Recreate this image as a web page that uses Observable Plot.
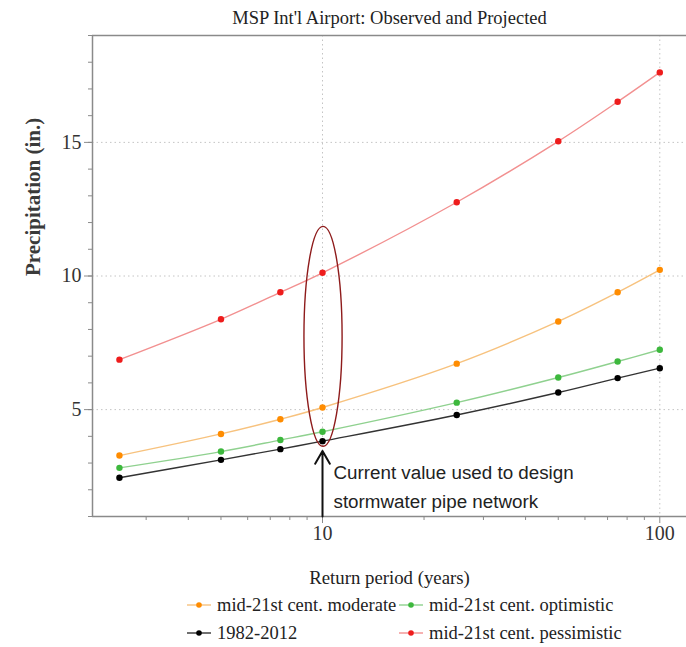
<!DOCTYPE html>
<html>
<head>
<meta charset="utf-8">
<script src="https://cdn.jsdelivr.net/npm/d3@7"></script>
<script src="https://cdn.jsdelivr.net/npm/@observablehq/plot@0.6"></script>
<style>
  html, body { margin: 0; padding: 0; background: #fff; }
  #wrap { position: relative; width: 686px; height: 647px; overflow: hidden; }
  #legend { position: absolute; left: 0; top: 590px; width: 686px; height: 57px;
            font-family: "Liberation Serif", "Times New Roman", serif; font-size: 18.5px; color: #222; }
  .item { position: absolute; display: flex; align-items: center; height: 24px; white-space: nowrap; }
  .item svg { margin-right: 6px; }
</style>
</head>
<body>
<div id="wrap"><div id="chart"></div><div id="legend"></div></div>
<script>
// ---- data ----
const periods     = [2.5, 5, 7.5, 10, 25, 50, 75, 100];           // return period (years)
const observed    = [2.45, 3.12, 3.52, 3.82, 4.80, 5.64, 6.18, 6.55];   // 1982-2012
const optimistic  = [2.82, 3.43, 3.86, 4.17, 5.26, 6.20, 6.80, 7.24];   // mid-21st cent. optimistic
const moderate    = [3.28, 4.09, 4.64, 5.08, 6.72, 8.30, 9.39, 10.23];  // mid-21st cent. moderate
const pessimistic = [6.87, 8.38, 9.39, 10.12, 12.76, 15.04, 16.52, 17.62]; // mid-21st cent. pessimistic

const seriesNames = ["1982-2012", "mid-21st cent. optimistic", "mid-21st cent. moderate", "mid-21st cent. pessimistic"];
const seriesValues = [observed, optimistic, moderate, pessimistic];
const lineColors = ["#333333", "#8fd18f", "#f7c27e", "#f29090"];
const dotColors  = ["#000000", "#3db83d", "#ff8c00", "#ee1c1c"];

const yMajorTicks = [5, 10, 15];
const yMinorTicks = d3.range(1, 20);
const xMajorTicks = [10, 100];
const xMinorTicks = [3, 4, 5, 6, 7, 8, 9, 20, 30, 40, 50, 60, 70, 80, 90];

const xDomain = [2.08, 120];
const yDomain = [1, 19];

// annotation: ellipse around the 10-year values, arrow to the observed value
const ellipseX = [8.84, 11.47];
const ellipseY = [3.61, 11.84];
const arrowFrom = 1;
const arrowTo = 3.45;
const noteText = "Current value used to design\nstormwater pipe network";
const noteY = 2.22;

const titleText = "MSP Int'l Airport: Observed and Projected";
const xLabel = "Return period (years)";
const yLabel = "Precipitation (in.)";

// ---- table ----
const rows = seriesNames.flatMap((name, i) =>
  periods.map((p, j) => ({series: name, period: p, value: seriesValues[i][j]})));

const serif = "Liberation Serif, Times New Roman, serif";
const sans = "Liberation Sans, Arial, Helvetica, sans-serif";
const axisGray = "#8a8a8a";

function ellipseMark(index, scales, values, dimensions) {
  const sx = typeof scales.x === "function" ? scales.x : scales.x.apply;
  const sy = typeof scales.y === "function" ? scales.y : scales.y.apply;
  const x0 = sx(ellipseX[0]), x1 = sx(ellipseX[1]);
  const y0 = sy(ellipseY[0]), y1 = sy(ellipseY[1]);
  const e = document.createElementNS("http://www.w3.org/2000/svg", "ellipse");
  e.setAttribute("cx", (x0 + x1) / 2);
  e.setAttribute("cy", (y0 + y1) / 2);
  e.setAttribute("rx", Math.abs(x1 - x0) / 2);
  e.setAttribute("ry", Math.abs(y1 - y0) / 2);
  e.setAttribute("fill", "none");
  e.setAttribute("stroke", "#8e1b1b");
  e.setAttribute("stroke-width", 1.4);
  const g = document.createElementNS("http://www.w3.org/2000/svg", "g");
  g.appendChild(e);
  return g;
}

const marks = [
  // grid
  Plot.gridX(xMajorTicks, {stroke: "#c4c4c4", strokeOpacity: 1, strokeDasharray: "1.5,3"}),
  Plot.gridY(yMajorTicks, {stroke: "#c4c4c4", strokeOpacity: 1, strokeDasharray: "1.5,3"}),
  // frame lines
  Plot.ruleX([xDomain[0]], {stroke: axisGray, strokeWidth: 1.5}),
  Plot.ruleY([yDomain[0]], {stroke: axisGray, strokeWidth: 1.5}),
  Plot.ruleY([yDomain[1]], {stroke: axisGray, strokeWidth: 1.5}),
  // axes
  Plot.axisY(yMinorTicks, {tickSize: 4, text: null, stroke: axisGray, label: null}),
  Plot.axisY(yMajorTicks, {tickSize: 8, tickPadding: 3, stroke: axisGray, fontSize: 20, fontFamily: serif, fill: "#333", label: null}),
  Plot.axisX(xMinorTicks, {tickSize: 4, text: null, stroke: axisGray, label: null}),
  Plot.axisX(xMajorTicks, {tickSize: 7, tickPadding: 2, stroke: axisGray, fontSize: 20, fontFamily: serif, fill: "#333", label: null, tickFormat: d => String(d)}),
];

seriesNames.forEach((name, i) => {
  const data = rows.filter(d => d.series === name);
  marks.push(Plot.line(data, {x: "period", y: "value", stroke: lineColors[i], strokeWidth: 1.4, curve: "catmull-rom"}));
});
seriesNames.forEach((name, i) => {
  const data = rows.filter(d => d.series === name);
  marks.push(Plot.dot(data, {x: "period", y: "value", fill: dotColors[i], r: 3.2}));
});

marks.push(
  ellipseMark,
  Plot.arrow([0], {x1: () => 10, x2: () => 10, y1: () => arrowFrom, y2: () => arrowTo,
    stroke: "#111", strokeWidth: 2, headLength: 11, headAngle: 60, inset: 0}),
  Plot.text([noteText], {x: () => 10, y: () => noteY, text: d => d, dx: 11, textAnchor: "start",
    lineAnchor: "middle", lineHeight: 1.55, fontFamily: sans, fontSize: 18.8, fill: "#222"}),
  Plot.text([titleText], {frameAnchor: "top", dy: -17, text: d => d, lineAnchor: "middle",
    fontFamily: serif, fontSize: 18.5, fill: "#222"}),
  Plot.text([xLabel], {frameAnchor: "bottom", dy: 61, text: d => d, lineAnchor: "middle",
    fontFamily: serif, fontSize: 18.8, fill: "#222"}),
  Plot.text([yLabel], {frameAnchor: "left", dx: -59, rotate: -90, text: d => d, lineAnchor: "middle",
    fontFamily: serif, fontSize: 21, fontWeight: "bold", fill: "#3a3a3a"})
);

const chart = Plot.plot({
  width: 686,
  height: 590,
  marginTop: 35,
  marginLeft: 92,
  marginRight: 0,
  marginBottom: 74,
  x: {type: "log", domain: xDomain, label: null},
  y: {domain: yDomain, label: null},
  style: {background: "#fff", overflow: "visible"},
  marks
});
document.getElementById("chart").appendChild(chart);

// ---- legend ----
const legendOrder = [2, 1, 0, 3]; // moderate, optimistic / 1982-2012, pessimistic
const legendPos = [[187, 593], [399, 593], [187, 621], [399, 621]];
const legend = document.getElementById("legend");
legendOrder.forEach((si, k) => {
  const [lx, ly] = legendPos[k];
  const div = document.createElement("div");
  div.className = "item";
  div.style.left = lx + "px";
  div.style.top = (ly - 590) + "px";
  div.innerHTML = `<svg width="24" height="10"><line x1="0" y1="5" x2="24" y2="5" stroke="${lineColors[si]}" stroke-width="1.4"/><circle cx="12" cy="5" r="2.8" fill="${dotColors[si]}"/></svg><span>${seriesNames[si]}</span>`;
  legend.appendChild(div);
});
</script>
</body>
</html>
